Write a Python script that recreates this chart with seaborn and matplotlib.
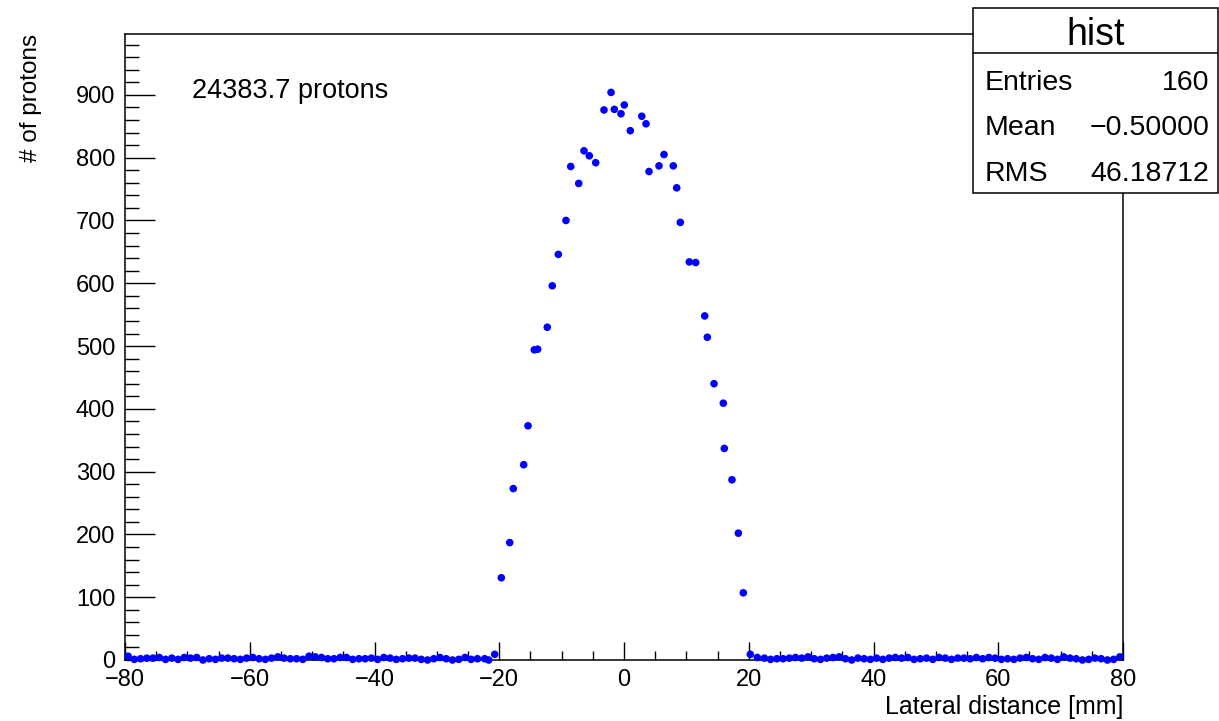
import numpy as np
import pandas as pd
import matplotlib
matplotlib.use("Agg")
import matplotlib.pyplot as plt
import seaborn as sns
from matplotlib.ticker import MultipleLocator
from matplotlib.patches import Rectangle
from matplotlib.lines import Line2D

# ---------------- data ----------------
# background bins on the left: [-80,-79) ... [-24,-23)
bg_left_y = [6, 1, 2, 3, 3, 4, 1, 3, 1, 4,
             3, 4, 0, 2, 1, 3, 3, 2, 1, 3,
             4, 2, 1, 3, 5, 3, 2, 2, 1, 6,
             5, 4, 2, 2, 4, 4, 1, 2, 2, 3,
             1, 4, 3, 1, 2, 3, 3, 1, 0, 2,
             4, 2, 0, 1, 4, 1, 2]
# beam region bins [-23,-22) ... [21,22)
peak_x = [-22.33, -21.69, -20.73, -19.67, -18.32, -17.75, -16.08, -15.39, -14.38, -13.84,
          -12.30, -11.50, -10.53, -9.30, -8.54, -7.26, -6.41, -5.56, -4.54, -3.21,
          -2.08, -1.55, -0.48, 0.05, 1.01, 2.85, 3.53, 4.01, 5.61, 6.41,
          7.90, 8.45, 9.03, 10.47, 11.50, 12.94, 13.36, 14.43, 15.92, 16.08,
          17.31, 18.33, 19.13, 20.25, 21.37]
peak_y = [2, 0, 9, 131, 187, 273, 311, 373, 494, 495,
          530, 596, 646, 700, 786, 759, 811, 803, 792, 876,
          904, 877, 870, 884, 843, 866, 854, 778, 787, 805,
          787, 752, 697, 634, 633, 548, 514, 440, 409, 337,
          287, 202, 107, 9, 4]
# background bins on the right: [22,23) ... [79,80)
bg_right_y = [3, 1, 2, 2, 3, 4, 3, 5, 2, 1,
              3, 4, 5, 2, 0, 3, 2, 1, 3, 1,
              3, 4, 3, 4, 1, 2, 3, 1, 4, 3,
              1, 3, 3, 2, 4, 2, 4, 3, 1, 2,
              1, 3, 4, 2, 1, 4, 3, 1, 5, 3,
              2, 0, 1, 3, 2, 0, 1, 5]

bg_left_x = np.arange(-80, -23) + 0.5
bg_right_x = np.arange(22, 80) + 0.5

df = pd.DataFrame({
    "x": np.concatenate([bg_left_x, peak_x, bg_right_x]),
    "y": np.concatenate([bg_left_y, peak_y, bg_right_y]),
})

annotation = "24383.7 protons"
stats_title = "hist"
stats_rows = [("Entries", "160"), ("Mean", "\u22120.50000"), ("RMS", "46.18712")]

# ---------------- style ----------------
sns.set_theme(style="white")
plt.rcParams["font.family"] = ["Liberation Sans", "DejaVu Sans"]
plt.rcParams["text.color"] = "black"
plt.rcParams["axes.labelcolor"] = "black"

W, H = 1219, 721
fig = plt.figure(figsize=(W / 100, H / 100), dpi=100)
fig.patch.set_facecolor("white")
ax = fig.add_axes([125 / W, (H - 660) / H, 998 / W, 626 / H])
ax.set_facecolor("white")

sns.scatterplot(data=df, x="x", y="y", color="#0000ff", s=30, edgecolor="none",
                legend=False, ax=ax, zorder=3, clip_on=False)

ax.set_xlim(-80, 80)
ax.set_ylim(0, 997)

ax.xaxis.set_major_locator(MultipleLocator(20))
ax.xaxis.set_minor_locator(MultipleLocator(5))
ax.yaxis.set_major_locator(MultipleLocator(100))
ax.yaxis.set_minor_locator(MultipleLocator(20))

ax.tick_params(which="both", direction="in", top=False, right=False,
               bottom=True, left=True, colors="black", labelsize=17)
ax.tick_params(axis="x", which="major", length=13, width=1, pad=6.5)
ax.tick_params(axis="x", which="minor", length=6.5, width=1)
ax.tick_params(axis="y", which="major", length=21.6, width=1, pad=7)
ax.tick_params(axis="y", which="minor", length=10, width=1)

for sp in ax.spines.values():
    sp.set_color("black")
    sp.set_linewidth(1.1)
    sp.set_visible(True)

ax.set_xlabel("Lateral distance [mm]", fontsize=18, color="black")
ax.xaxis.label.set_horizontalalignment("right")
ax.xaxis.label.set_verticalalignment("top")
ax.xaxis.set_label_coords(1.0, -0.056)

ax.set_ylabel("# of protons", fontsize=17.5, color="black")
ax.yaxis.label.set_horizontalalignment("center")
ax.yaxis.label.set_verticalalignment("top")
ax.yaxis.label.set_rotation_mode("default")
ax.yaxis.set_label_coords(-0.0945, 1.0)

ax.text(192 / W, 1 - 98 / H, annotation, transform=fig.transFigure,
        fontsize=19.5, ha="left", va="baseline", color="black")

# ---------------- stats box ----------------
bx0, bx1 = 973 / W, 1218 / W
by_top, by_bot = 1 - 8 / H, 1 - 193 / H
fig.patches.append(Rectangle((bx0, by_bot), bx1 - bx0, by_top - by_bot,
                             transform=fig.transFigure, facecolor="white",
                             edgecolor="black", linewidth=1.1, zorder=10))
fig.lines.append(Line2D([bx0, bx1], [1 - 52.5 / H, 1 - 52.5 / H],
                        transform=fig.transFigure, color="black",
                        linewidth=1.1, zorder=11))
fig.text((bx0 + bx1) / 2, 1 - 45 / H, stats_title, fontsize=27, ha="center",
         va="baseline", color="black", zorder=12)
baselines = [89.5, 135, 181]
for (lab, val), yb in zip(stats_rows, baselines):
    fig.text(985 / W, 1 - yb / H, lab, fontsize=20.5, ha="left",
             va="baseline", color="black", zorder=12)
    fig.text(1209.5 / W, 1 - yb / H, val, fontsize=20.5, ha="right",
             va="baseline", color="black", zorder=12)

fig.savefig("out.png", dpi=100, facecolor="white")
